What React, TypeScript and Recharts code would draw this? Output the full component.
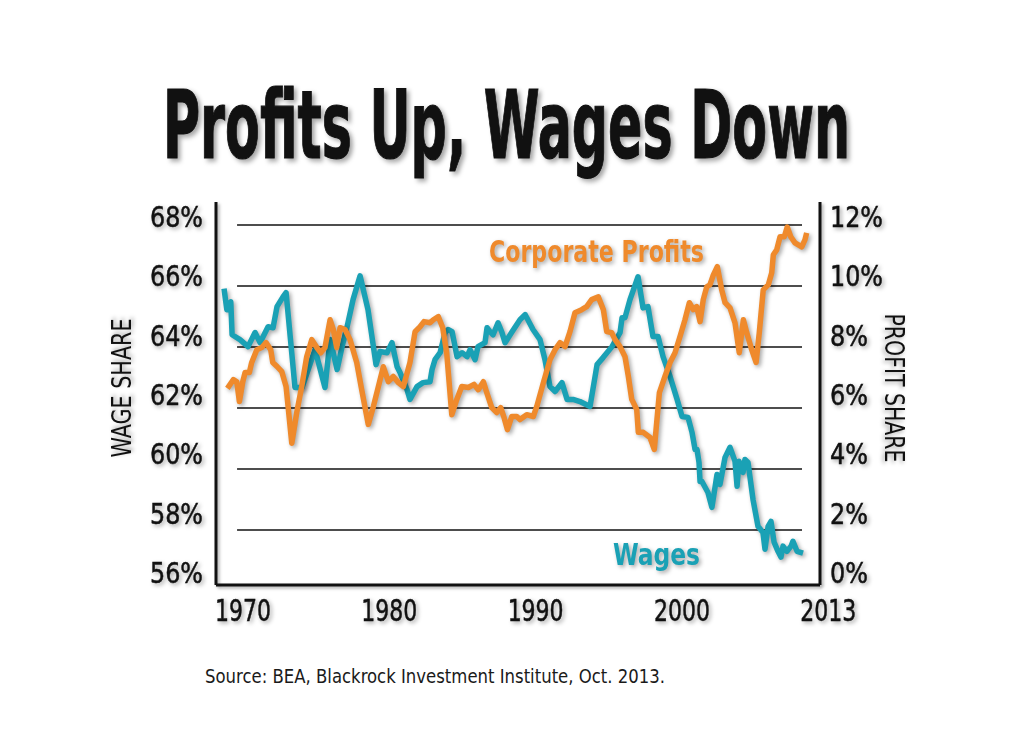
import React from "react";
import { LineChart, Line, XAxis, YAxis, ReferenceLine } from "recharts";

const FONT =
  "'Liberation Sans Narrow', 'DejaVu Sans Condensed', 'Roboto Condensed', 'Liberation Sans', Arial, sans-serif";

const TEAL = "#1aa1b5";
const ORANGE = "#ef8a2c";

// x positions are in "chart years"
const WAGE_YEARS = [
  1968.7, 1968.89, 1969.16, 1969.25, 1969.79, 1970.34, 1970.82, 1971.16, 1971.71, 1972.05,
  1972.32, 1972.73, 1972.94, 1973.55, 1974.03, 1974.92, 1975.6, 1975.95, 1976.43, 1976.77,
  1977.11, 1977.52, 1978.0, 1978.54, 1979.09, 1979.36, 1979.84, 1980.18, 1980.53, 1980.73,
  1981.21, 1981.41, 1981.89, 1982.3, 1982.78, 1982.92, 1983.12, 1983.47, 1983.81, 1984.01,
  1984.29, 1984.63, 1984.97, 1985.31, 1985.52, 1985.86, 1986.06, 1986.54, 1986.68, 1986.88,
  1987.09, 1987.43, 1987.7, 1987.91, 1988.39, 1988.93, 1989.28, 1989.82, 1990.3, 1990.64,
  1990.98, 1991.33, 1991.8, 1992.15, 1992.56, 1993.03, 1993.72, 1994.2, 1994.61, 1995.22,
  1995.77, 1995.91, 1996.11, 1996.45, 1997.0, 1997.34, 1997.68, 1998.02, 1998.37, 1998.71,
  1999.19, 1999.67, 2000.01, 2000.42, 2000.69, 2000.9, 2001.03, 2001.17, 2001.24, 2001.37,
  2001.78, 2002.05, 2002.4, 2002.6, 2002.95, 2003.29, 2003.63, 2003.77, 2003.9, 2004.18,
  2004.31, 2004.52, 2004.86, 2005.2, 2005.54, 2005.68, 2005.89, 2006.09, 2006.3, 2006.57,
  2006.77, 2006.91, 2007.18, 2007.46, 2007.59, 2007.87, 2008.28,
];

const WAGE_SHARE = [
  65.91, 65.22, 65.48, 64.4, 64.24, 64.01, 64.47, 64.14, 64.66, 64.63,
  65.32, 65.64, 65.78, 62.67, 62.67, 63.91, 62.67, 64.24, 63.26, 64.01,
  64.66, 65.55, 66.33, 65.22, 63.42, 63.85, 63.81, 64.14, 63.35, 63.16,
  62.6, 62.28, 62.7, 62.83, 62.86, 63.26, 63.58, 63.81, 64.47, 64.57,
  64.5, 63.68, 63.81, 63.68, 63.91, 63.58, 64.01, 64.14, 64.63, 64.5,
  64.4, 64.79, 64.47, 64.14, 64.5, 64.89, 65.06, 64.57, 64.24, 63.58,
  62.7, 62.54, 62.83, 62.28, 62.28, 62.21, 62.05, 63.42, 63.65, 64.01,
  64.47, 64.96, 64.96, 65.55, 66.3, 65.28, 65.32, 64.34, 64.34, 63.68,
  63.03, 62.28, 61.72, 61.69, 61.2, 60.64, 60.64, 60.21, 59.59, 59.59,
  59.23, 58.74, 59.82, 59.49, 60.38, 60.71, 60.25, 59.43, 60.25, 59.89,
  60.31, 60.21, 59.0, 58.12, 57.92, 57.37, 58.12, 58.28, 57.6, 57.3,
  57.11, 57.47, 57.3, 57.47, 57.63, 57.3, 57.24,
];

const PROFIT_YEARS = [
  1968.93, 1969.34, 1969.57, 1969.75, 1969.98, 1970.14, 1970.43, 1970.59, 1970.94, 1971.28,
  1971.57, 1971.89, 1972.03, 1972.34, 1972.65, 1972.94, 1973.33, 1973.67, 1974.01, 1974.35,
  1974.7, 1975.04, 1975.31, 1975.6, 1975.95, 1976.17, 1976.4, 1976.63, 1976.97, 1977.31,
  1977.77, 1978.11, 1978.56, 1978.91, 1979.25, 1979.59, 1979.93, 1980.27, 1980.62, 1980.96,
  1981.41, 1981.76, 1982.1, 1982.37, 1982.78, 1983.01, 1983.35, 1983.65, 1983.92, 1984.27,
  1984.61, 1984.95, 1985.4, 1985.79, 1986.08, 1986.43, 1986.66, 1987.0, 1987.34, 1987.61,
  1987.84, 1988.07, 1988.37, 1988.71, 1988.93, 1989.39, 1989.84, 1990.08, 1990.53, 1990.98,
  1991.33, 1991.67, 1992.01, 1992.35, 1992.69, 1993.15, 1993.49, 1993.83, 1994.29, 1994.63,
  1994.86, 1995.2, 1995.43, 1995.77, 1996.11, 1996.34, 1996.57, 1996.91, 1997.02, 1997.36,
  1997.82, 1998.11, 1998.46, 1998.84, 1999.19, 1999.53, 1999.87, 2000.21, 2000.51, 2000.78,
  2001.01, 2001.24, 2001.46, 2001.7, 2001.92, 2002.15, 2002.42, 2002.72, 2002.95, 2003.29,
  2003.63, 2003.92, 2004.2, 2004.43, 2004.77, 2005.07, 2005.29, 2005.56, 2005.91, 2006.14,
  2006.25, 2006.48, 2006.71, 2007.0, 2007.2, 2007.44, 2007.73, 2008.19, 2008.41, 2008.53,
];

const PROFIT_SHARE = [
  6.64, 6.93, 6.86, 6.21, 6.86, 7.16, 7.16, 7.49, 7.91, 7.98,
  8.14, 7.91, 7.49, 7.35, 7.19, 6.7, 4.84, 5.85, 6.7, 7.68,
  8.24, 7.98, 7.81, 7.98, 8.89, 8.57, 7.98, 8.63, 8.57, 8.24,
  7.49, 6.6, 5.46, 6.05, 6.7, 7.35, 6.86, 7.03, 6.83, 6.7,
  7.49, 8.5, 8.66, 8.83, 8.79, 8.89, 8.99, 8.63, 7.81, 5.78,
  6.28, 6.7, 6.67, 6.77, 6.6, 6.86, 6.5, 6.01, 5.85, 6.01,
  5.69, 5.29, 5.72, 5.72, 5.62, 5.78, 5.72, 6.05, 6.83, 7.58,
  7.91, 8.14, 8.01, 8.5, 9.12, 9.22, 9.32, 9.55, 9.64, 9.22,
  8.5, 8.47, 8.24, 8.01, 7.68, 7.03, 6.28, 5.95, 5.2, 5.2,
  5.03, 4.64, 6.5, 7.03, 7.49, 7.81, 8.34, 8.89, 9.45, 9.22,
  9.32, 8.83, 9.55, 9.97, 10.04, 10.36, 10.63, 9.87, 9.45, 9.28,
  8.79, 7.81, 8.89, 8.47, 7.91, 7.49, 8.47, 9.87, 10.04, 10.43,
  11.02, 11.18, 11.61, 11.61, 11.93, 11.61, 11.41, 11.28, 11.51, 11.74,
];

const X_TICKS = [1970, 1980, 1990, 2000, 2010];
const X_TICK_LABELS = ["1970", "1980", "1990", "2000", "2013"];
const WAGE_TICKS = [56, 58, 60, 62, 64, 66, 68];
const PROFIT_TICKS = [0, 2, 4, 6, 8, 10, 12];
const GRID_LEVELS = [58, 60, 62, 64, 66, 68];

const X_MIN = 1968.15;
const X_MAX = 2009.44;
const WAGE_MIN = 56;
const WAGE_MAX = 68.75;
const FRAME_BOTTOM = 56.2;
const GRID_FROM = 1969.59;
const GRID_TO = 2008.21;

const wageData = WAGE_YEARS.map((year, i) => ({ year, wage: WAGE_SHARE[i] }));
const profitData = PROFIT_YEARS.map((year, i) => ({ year, profit: PROFIT_SHARE[i] }));

const SHADOW = "drop-shadow(2px 2px 2px rgba(0,0,0,0.35))";

// labels sit a little above their gridline, more so lower down
function tickLift(v: number) {
  return 2 - (68 - v) * 0.83;
}

function tickWidth(label: string) {
  return label.length >= 3 ? 53 : 38;
}

function LeftTick(props: any) {
  const { x, y, payload } = props;
  const label = `${payload.value}%`;
  return (
    <text
      x={x}
      y={y + tickLift(payload.value)}
      textAnchor="end"
      fontFamily={FONT}
      fontSize={29}
      fill="#111"
      stroke="#111"
      strokeWidth={0.5}
      textLength={tickWidth(label)}
      lengthAdjust="spacingAndGlyphs"
      style={{ filter: SHADOW }}
    >
      {label}
    </text>
  );
}

function RightTick(props: any) {
  const { x, y, payload } = props;
  const label = `${payload.value}%`;
  return (
    <text
      x={x}
      y={y + tickLift(payload.value + 56)}
      textAnchor="start"
      fontFamily={FONT}
      fontSize={29}
      fill="#111"
      stroke="#111"
      strokeWidth={0.5}
      textLength={tickWidth(label)}
      lengthAdjust="spacingAndGlyphs"
      style={{ filter: SHADOW }}
    >
      {label}
    </text>
  );
}

function BottomTick(props: any) {
  const { x, y, payload } = props;
  const idx = X_TICKS.indexOf(payload.value);
  return (
    <text
      x={x}
      y={y + 30}
      textAnchor="middle"
      fontFamily={FONT}
      fontSize={31}
      fill="#111"
      stroke="#111"
      strokeWidth={0.5}
      textLength={56}
      lengthAdjust="spacingAndGlyphs"
      style={{ filter: SHADOW }}
    >
      {X_TICK_LABELS[idx] ?? payload.value}
    </text>
  );
}

export default function App() {
  return (
    <div
      style={{
        position: "absolute",
        left: 0,
        top: 0,
        width: 1024,
        height: 756,
        background: "#fff",
        overflow: "hidden",
      }}
    >
      <style>{`.recharts-line-curve { filter: ${SHADOW}; }
.frame-line line { filter: drop-shadow(2px 2px 1.5px rgba(0,0,0,0.3)); }`}</style>
      <LineChart
        width={1024}
        height={756}
        margin={{ top: 202, right: 144, bottom: 125, left: 156 }}
      >
        <XAxis
          type="number"
          dataKey="year"
          domain={[X_MIN, X_MAX]}
          ticks={X_TICKS}
          tick={<BottomTick />}
          tickLine={false}
          axisLine={false}
          tickSize={0}
          tickMargin={0}
          height={40}
          allowDataOverflow
        />
        <YAxis
          yAxisId="left"
          orientation="left"
          domain={[WAGE_MIN, WAGE_MAX]}
          ticks={WAGE_TICKS}
          tick={<LeftTick />}
          tickLine={false}
          axisLine={false}
          tickSize={0}
          tickMargin={13}
          width={60}
          allowDataOverflow
        />
        <YAxis
          yAxisId="right"
          orientation="right"
          domain={[WAGE_MIN - 56, WAGE_MAX - 56]}
          ticks={PROFIT_TICKS}
          tick={<RightTick />}
          tickLine={false}
          axisLine={false}
          tickSize={0}
          tickMargin={10}
          width={60}
          allowDataOverflow
        />
        {GRID_LEVELS.map((lv) => (
          <ReferenceLine
            key={lv}
            yAxisId="left"
            segment={[
              { x: GRID_FROM, y: lv },
              { x: GRID_TO, y: lv },
            ]}
            stroke="#4d4d4d"
            strokeWidth={2}
          />
        ))}
        <Line
          yAxisId="left"
          data={wageData}
          dataKey="wage"
          type="linear"
          stroke={TEAL}
          strokeWidth={5.5}
          strokeLinejoin="round"
          dot={false}
          activeDot={false}
          isAnimationActive={false}
        />
        <Line
          yAxisId="right"
          data={profitData}
          dataKey="profit"
          type="linear"
          stroke={ORANGE}
          strokeWidth={5.5}
          strokeLinejoin="round"
          dot={false}
          activeDot={false}
          isAnimationActive={false}
        />
        <ReferenceLine
          className="frame-line"
          yAxisId="left"
          segment={[
            { x: X_MIN, y: WAGE_MAX },
            { x: X_MIN, y: FRAME_BOTTOM },
          ]}
          stroke="#111"
          strokeWidth={3}
        />
        <ReferenceLine
          className="frame-line"
          yAxisId="left"
          segment={[
            { x: X_MIN, y: FRAME_BOTTOM },
            { x: X_MAX, y: FRAME_BOTTOM },
          ]}
          stroke="#111"
          strokeWidth={3}
        />
        <ReferenceLine
          className="frame-line"
          yAxisId="left"
          segment={[
            { x: X_MAX, y: FRAME_BOTTOM },
            { x: X_MAX, y: WAGE_MAX },
          ]}
          stroke="#111"
          strokeWidth={3}
        />
      </LineChart>
      <svg
        width={1024}
        height={756}
        style={{ position: "absolute", left: 0, top: 0, pointerEvents: "none" }}
      >
        <text
          transform="translate(163 158) scale(1 1.45)"
          x={0}
          y={0}
          fontFamily={FONT}
          fontWeight="bold"
          fontSize={65.5}
          fill="#111"
          stroke="#111"
          strokeWidth={0.8}
          textLength={687}
          lengthAdjust="spacingAndGlyphs"
          style={{ filter: "drop-shadow(3px 2px 2px rgba(0,0,0,0.35))" }}
        >
          Profits Up, Wages Down
        </text>
        <text
          transform="translate(131 388) rotate(-90)"
          textAnchor="middle"
          fontFamily={FONT}
          fontSize={26}
          fill="#111"
          textLength={139}
          lengthAdjust="spacingAndGlyphs"
          style={{ filter: SHADOW }}
        >
          WAGE SHARE
        </text>
        <text
          transform="translate(885 388) rotate(90)"
          textAnchor="middle"
          fontFamily={FONT}
          fontSize={26}
          fill="#111"
          textLength={149}
          lengthAdjust="spacingAndGlyphs"
          style={{ filter: SHADOW }}
        >
          PROFIT SHARE
        </text>
        <text
          x={489}
          y={262}
          fontFamily={FONT}
          fontWeight="bold"
          fontSize={30}
          fill={ORANGE}
          textLength={215}
          lengthAdjust="spacingAndGlyphs"
          style={{ filter: SHADOW }}
        >
          Corporate Profits
        </text>
        <text
          x={613}
          y={565}
          fontFamily={FONT}
          fontWeight="bold"
          fontSize={31}
          fill={TEAL}
          textLength={87}
          lengthAdjust="spacingAndGlyphs"
          style={{ filter: SHADOW }}
        >
          Wages
        </text>
        <text
          x={205}
          y={683}
          fontFamily={FONT}
          fontSize={20}
          fill="#1a1a1a"
          textLength={460}
          lengthAdjust="spacingAndGlyphs"
        >
          Source: BEA, Blackrock Investment Institute, Oct. 2013.
        </text>
      </svg>
    </div>
  );
}
